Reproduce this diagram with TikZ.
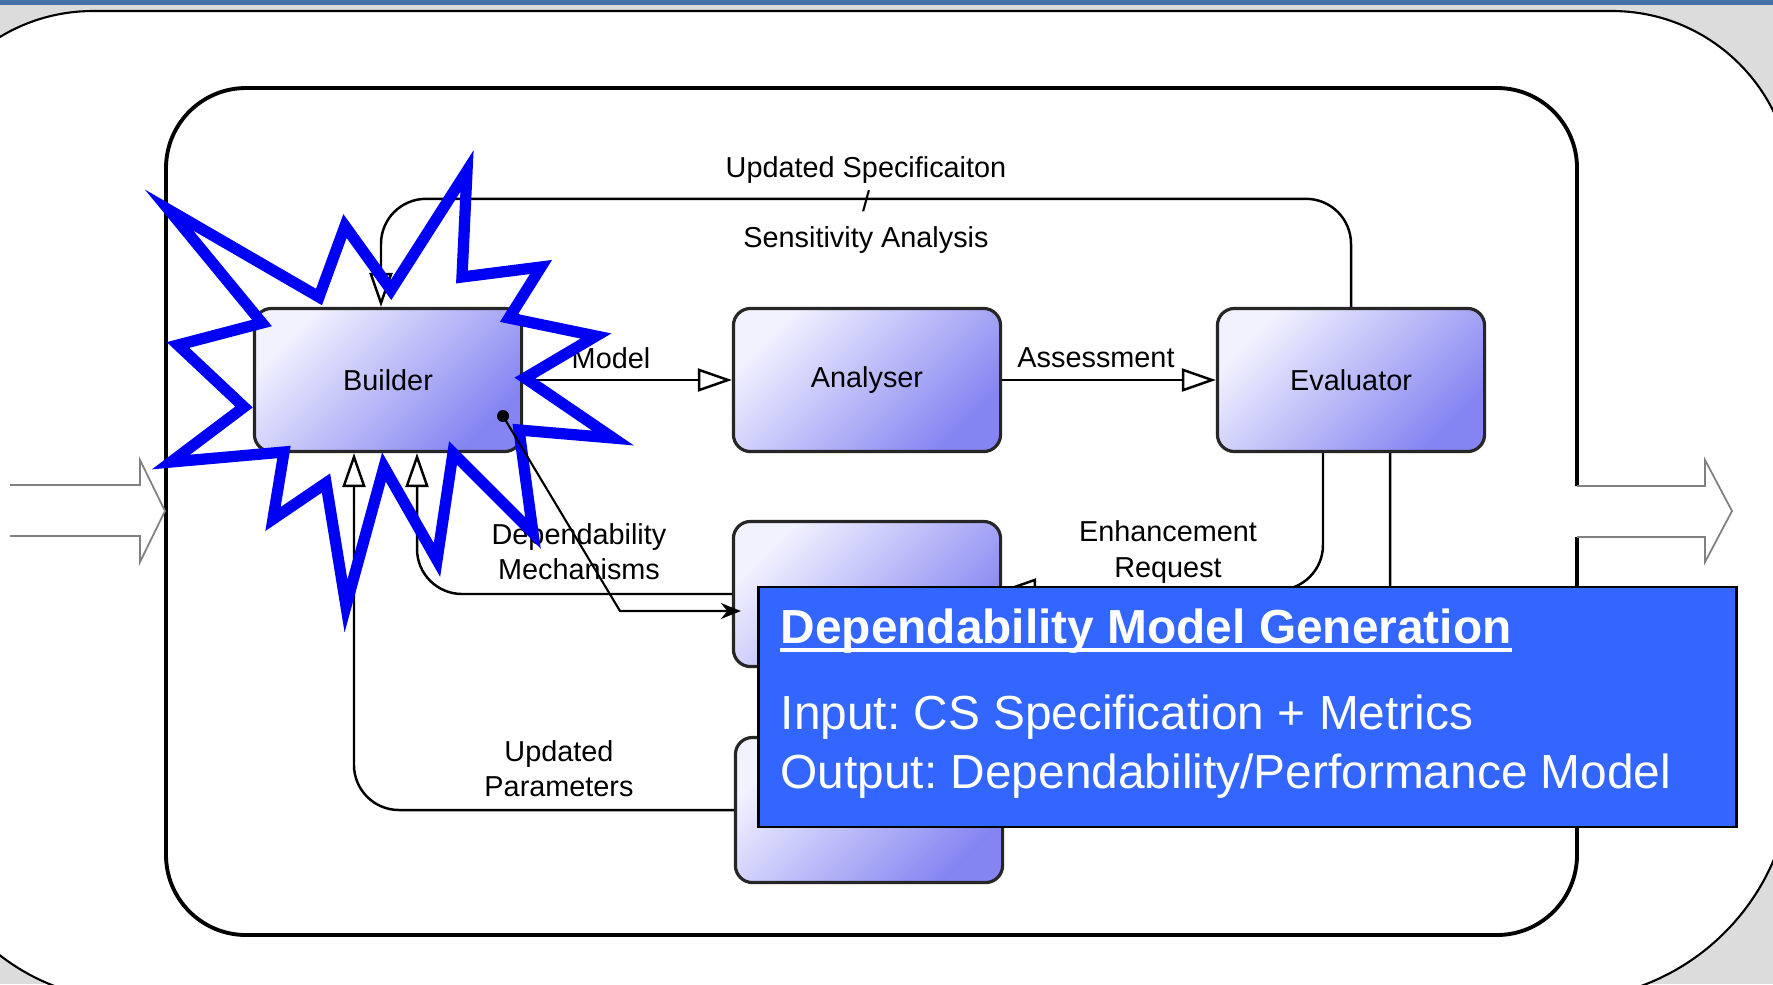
\documentclass[tikz,border=0pt]{standalone}
\usepackage{fontspec}
\setmainfont{Liberation Sans}
\usetikzlibrary{arrows.meta}

\definecolor{slidegray}{HTML}{DCDCDC}
\definecolor{barblue}{HTML}{4472A8}
\definecolor{boxlight}{HTML}{F2F2FF}
\definecolor{boxdark}{HTML}{8484F2}
\definecolor{ovblue}{HTML}{3366FF}
\definecolor{burstblue}{HTML}{0000F5}

\tikzset{
  stage/.style={draw=black!85, line width=0.9pt, rounded corners=0.17cm,
    minimum width=2.67cm, minimum height=1.43cm,
    top color=boxlight, bottom color=boxdark, shading angle=45,
    font=\fontsize{8.2}{10}\selectfont},
  lbl/.style={align=center, font=\fontsize{8.2}{10}\selectfont},
  flow/.style={line width=0.7pt, -{Triangle[open, length=3.4mm, width=2.3mm]}},
  bigarrow/.style={draw=black!50, line width=0.5pt},
  ovtext/.style={anchor=base west, inner sep=0pt, text=white}
}

\begin{document}
\frenchspacing
\begin{tikzpicture}[x=0.01cm, y=-0.01cm]
      \useasboundingbox (0,0) rectangle (1773,984);
      \clip (0,0) rectangle (1773,984);
      % slide background
      \fill[slidegray] (0,0) rectangle (1773,984);
      \fill[barblue] (0,0) rectangle (1773,5);
      \draw[fill=white, line width=0.6pt] (-87,500) [rounded corners=1.8cm] -- (-87,11)
        [rounded corners=1.8cm] -- (1792,11) [rounded corners=2.3cm] -- (1792,1000)
        [rounded corners=2.1cm] -- (-80,1000) [sharp corners] -- cycle;

      % frame with the gap for the output arrow
      \draw[line width=1.1pt, rounded corners=0.8cm] (1577,537) -- (1577,935) -- (166,935)
        -- (166,88) -- (1577,88) -- (1577,486);
      \draw[bigarrow] (10,485) -- (140,485) -- (140,460) -- (165,511) -- (140,562) -- (140,536) -- (10,536);
      \draw[bigarrow] (1577,486) -- (1705,486) -- (1705,460) -- (1732,511) -- (1705,562) -- (1705,537) -- (1577,537);

      % stages
      \node[stage] (build) at (388,380) {Builder};
      \node[stage] (anal) at (867,380) {Analyser};
      \node[stage] (eval) at (1351,380) {Evaluator};
      \node[stage, minimum height=1.45cm] (enh) at (867,594) {};
      \node[stage, minimum height=1.45cm] (upd) at (869,810) {};

      % connectors
      \draw[flow] (build) -- (anal);
      \draw[flow] (anal) -- (eval);
      \draw[flow, rounded corners=0.45cm] (eval.north) |- ([xshift=-0.07cm, yshift=1.08cm]build.north)
        -- ([xshift=-0.07cm]build.north);
      \draw[flow, rounded corners=0.45cm] (enh.west) -| ([xshift=0.29cm]build.south);
      \draw[flow, rounded corners=0.45cm] (upd.west) -| ([xshift=-0.34cm]build.south);
      \draw[flow, rounded corners=0.45cm] ([xshift=-0.28cm]eval.south) |- ([yshift=0.04cm]enh.east);
      \draw[flow, rounded corners=0.45cm] ([xshift=0.39cm]eval.south) |- (upd.east);

      \node[lbl] (lmodel) at (611,358) {Model};
      \node[lbl] (lassess) at (1096,358) {Assessment};
      \node[lbl] (lspec) at (866,170) {Updated Specificaiton};
      \node[lbl] (lslash) at (866,201) {/};
      \node[lbl] (lsens) at (866,240) {Sensitivity Analysis};
      \node[lbl] (lmech) at (579,552) {Dependability\\Mechanisms};
      \node[lbl] (lreq) at (1168,552) {Enhancement\\Request};
      \node[lbl] (lpar) at (559,769) {Updated\\Parameters};

      % highlight burst
      \draw[burstblue, line width=3.2pt, line join=miter, miter limit=20]
        (169,210) -- (262,323) -- (178,345) -- (244,407) -- (171,462) -- (284,452)
        -- (273,519) -- (326,483) -- (346,606) -- (384,467) -- (437,560) -- (453,453)
        -- (533,533) -- (519,430) -- (613,438) -- (525,378) -- (596,336) -- (509,318)
        -- (541,267) -- (462,277) -- (467,171) -- (391,290) -- (345,226) -- (319,297) -- cycle;

      % pointer
      \coordinate (dot) at (503,416);
      \coordinate (bend) at (620,611);
      \fill (dot) circle (0.06cm);
      \draw[line width=0.6pt, -{Stealth[length=2mm, width=1.6mm]}] (dot) -- (bend)
        -- ([xshift=0.09cm, yshift=-0.17cm]enh.west);

      % callout
      \node[draw=black, line width=0.8pt, fill=ovblue, minimum width=9.77cm, minimum height=2.4cm] (gen) at (1247.5,707) {};
      \node[ovtext, font=\fontsize{13.6}{16}\selectfont\bfseries] (gtitle) at (780,643) {Dependability Model Generation};
      \draw[white, line width=1.1pt] ([yshift=-0.07cm]gtitle.base west) -- ([yshift=-0.07cm]gtitle.base east);
      \node[ovtext, font=\fontsize{13.6}{16}\selectfont] (gin) at (780,729) {Input: CS Specification + Metrics};
      \node[ovtext, font=\fontsize{13.6}{16}\selectfont] (gout) at (780,788) {Output: Dependability/Performance Model};
\end{tikzpicture}
\end{document}
